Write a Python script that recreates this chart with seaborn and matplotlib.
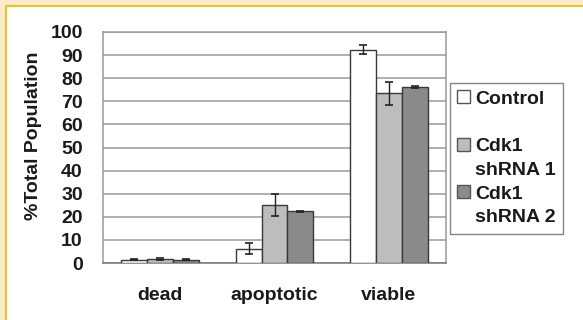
import matplotlib
matplotlib.use('Agg')
import matplotlib.pyplot as plt
from matplotlib.patches import Patch, Rectangle
import seaborn as sns
import pandas as pd

# values (% of total population)
categories = ['dead', 'apoptotic', 'viable']
groups = ['Control', 'Cdk1 shRNA 1', 'Cdk1 shRNA 2']
control = [1.5, 6.1, 92.4]
shrna1 = [1.6, 25.2, 73.4]
shrna2 = [1.4, 22.4, 76.2]
control_err = [0.3, 2.4, 2.0]
shrna1_err = [0.4, 4.8, 5.0]
shrna2_err = [0.2, 0.3, 0.5]
yticks = [0, 10, 20, 30, 40, 50, 60, 70, 80, 90, 100]

colors = ['#ffffff', '#bdbdbd', '#8a8a8a']
FS = 14

sns.set_style('white')
plt.rcParams['font.family'] = ['Liberation Sans', 'DejaVu Sans']
plt.rcParams['font.weight'] = 'bold'

rows = []
for g, vals, errs in zip(groups, [control, shrna1, shrna2],
                         [control_err, shrna1_err, shrna2_err]):
    for c, v, e in zip(categories, vals, errs):
        rows.append({'category': c, 'group': g, 'value': v, 'err': e})
df = pd.DataFrame(rows)

fig = plt.figure(figsize=(5.83, 3.2), dpi=100)
ax = fig.add_axes([103 / 583, 57 / 320, 343 / 583, 231 / 320])

sns.barplot(data=df, x='category', y='value', hue='group', order=categories,
            hue_order=groups, palette=colors, width=0.68, errorbar=None,
            edgecolor='#3a3a3a', linewidth=1.0, saturation=1, ax=ax,
            legend=False, zorder=3)

# error bars placed on the bars seaborn drew
for g, container in zip(groups, ax.containers):
    sub = df[df['group'] == g].set_index('category').loc[categories]
    xs = [p.get_x() + p.get_width() / 2 for p in container.patches]
    ax.errorbar(xs, sub['value'], yerr=sub['err'], fmt='none',
                ecolor='#222222', elinewidth=1.0, capsize=3,
                capthick=1.2, zorder=4)

ax.set_ylim(0, 100)
ax.set_xlim(-0.5, 2.5)
ax.set_yticks(yticks)
ax.yaxis.grid(True, color='#9a9a9a', linewidth=1.1, zorder=0)
ax.set_axisbelow(True)
for s in ax.spines.values():
    s.set_visible(True)
    s.set_color('#9a9a9a')
    s.set_linewidth(1.1)
ax.spines['bottom'].set_color('#777777')

ax.set_xticks([0.5, 1.5], minor=True)
ax.tick_params(axis='x', which='minor', direction='in', length=6,
               color='#777777', width=1)
ax.tick_params(axis='x', which='major', length=0, pad=17, labelsize=FS)
ax.tick_params(axis='y', length=0, pad=14.5, labelsize=FS)
for lab in ax.get_xticklabels() + ax.get_yticklabels():
    lab.set_fontweight('bold')
    lab.set_color('#1a1a1a')

ax.set_xlabel('')
ax.set_ylabel('%Total Population', fontsize=FS, fontweight='bold',
              color='#1a1a1a')
ax.yaxis.set_label_coords(-0.178, 0.55)

# legend laid out like the original: handle on the first line of each entry
blank = Patch(facecolor='none', edgecolor='none')
handles = [Patch(facecolor=colors[0], edgecolor='#555555'), blank,
           Patch(facecolor=colors[1], edgecolor='#555555'), blank,
           Patch(facecolor=colors[2], edgecolor='#555555'), blank]
labels = ['Control', ' ', 'Cdk1', 'shRNA 1', 'Cdk1', 'shRNA 2']
leg = fig.legend(handles, labels, loc='upper left',
                 bbox_to_anchor=(450 / 583, 1 - 83 / 320), borderaxespad=0,
                 frameon=True, fancybox=False, edgecolor='#666666',
                 prop={'size': FS, 'weight': 'bold'}, handlelength=0.65,
                 handleheight=0.65, handletextpad=0.25, labelspacing=0.33,
                 borderpad=0.38)
leg.get_frame().set_linewidth(1.0)
for t in leg.get_texts():
    t.set_color('#1a1a1a')

# page border: cream margin with a yellow rule on top and left
fig.patches.append(Rectangle((0, 1 - 5 / 320), 1, 5 / 320, transform=fig.transFigure,
                             facecolor='#fbebcd', edgecolor='none', zorder=0))
fig.patches.append(Rectangle((0, 0), 5 / 583, 1, transform=fig.transFigure,
                             facecolor='#fbebcd', edgecolor='none', zorder=0))
fig.patches.append(Rectangle((5 / 583, 1 - 7 / 320), 1, 2 / 320, transform=fig.transFigure,
                             facecolor='#f5c21b', edgecolor='none', zorder=1))
fig.patches.append(Rectangle((5 / 583, 0), 2 / 583, 1 - 5 / 320, transform=fig.transFigure,
                             facecolor='#f5c21b', edgecolor='none', zorder=1))

fig.savefig('out.png', dpi=100)
